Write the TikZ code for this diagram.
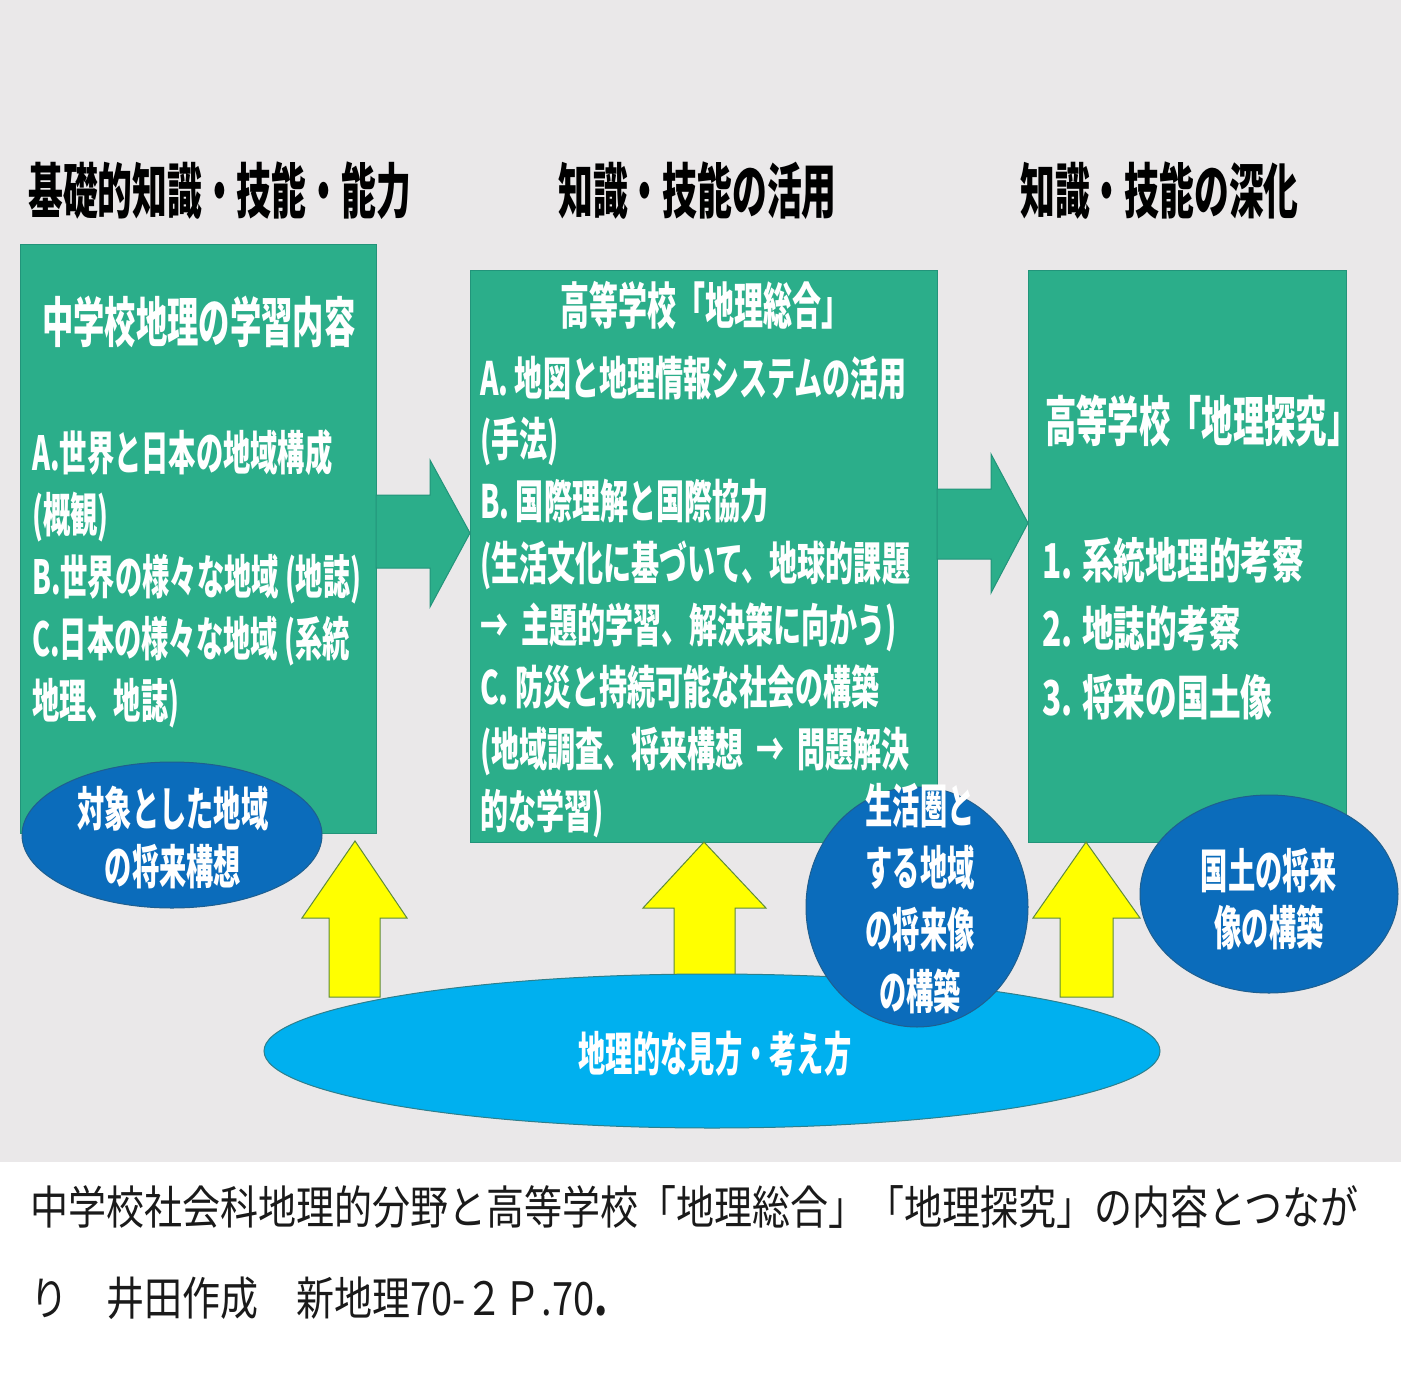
\documentclass[tikz,border=0pt]{standalone}
\usepackage{fontspec}
\usetikzlibrary{shapes.geometric}
\newfontfamily\jpc[FakeStretch=0.58]{Noto Sans CJK JP}
\newfontfamily\jpm[FakeStretch=0.61]{Noto Sans CJK JP}
\newfontfamily\jpw[FakeStretch=0.66]{Noto Sans CJK JP}
\newfontfamily\jpcap[FakeStretch=0.826]{Noto Sans CJK JP}
\definecolor{bg}{HTML}{EAE8E9}
\definecolor{grn}{HTML}{2BAE8A}
\definecolor{grnd}{HTML}{22947A}
\definecolor{dblue}{HTML}{0B6CBB}
\definecolor{dbluel}{HTML}{1F5F8F}
\definecolor{lblue}{HTML}{00B0EF}
\definecolor{lbluel}{HTML}{2E7F8C}
\definecolor{yel}{HTML}{FFFF00}
\definecolor{yell}{HTML}{5E8B3A}
\definecolor{cap}{HTML}{1A1A1A}
\tikzset{
  box/.style={draw=grnd, line width=1pt, fill=grn, rectangle, inner sep=0pt, anchor=north west},
  garrow/.style={draw=grnd, line width=1pt, fill=grn},
  yarrow/.style={draw=yell, line width=1pt, fill=yel},
  dell/.style={draw=dbluel, line width=1pt, fill=dblue, ellipse, inner sep=0pt},
  lell/.style={draw=lbluel, line width=1pt, fill=lblue, ellipse, inner sep=0pt},
  hd/.style={inner sep=0pt, anchor=base west, text=black, font=\jpc\bfseries\fontsize{60}{66}\selectfont},
  ttl/.style={inner sep=0pt, text=white, font=\jpc\bfseries\fontsize{54}{60}\selectfont},
  body/.style={inner sep=0pt, anchor=base west, text=white, font=\jpc\bfseries\fontsize{47}{62}\selectfont},
  mbody/.style={inner sep=0pt, anchor=base west, text=white, font=\jpm\bfseries\fontsize{46}{62}\selectfont},
  wbody/.style={inner sep=0pt, anchor=base west, text=white, font=\jpw\bfseries\fontsize{48}{62}\selectfont},
  etxt/.style={inner sep=0pt, anchor=base, text=white, font=\jpc\bfseries\fontsize{47}{62}\selectfont},
  captxt/.style={inner sep=0pt, anchor=base west, text=cap, font=\jpcap\fontsize{46}{60}\selectfont},
}
\begin{document}
\begin{tikzpicture}[x=1pt,y=-1pt]
\useasboundingbox (0,0) rectangle (1401,1387);
\fill[white] (0,0) rectangle (1401,1387);
\fill[bg] (0,0) rectangle (1401,1162);
% headings
\node[hd] (h1) at (28,213) {基礎的知識・技能・能力};
\node[hd] (h2) at (558,213) {知識・技能の活用};
\node[hd] (h3) at (1020,213) {知識・技能の深化};
% boxes
\node[box, minimum width=356pt, minimum height=589pt] (b1) at (20,244) {};
\node[box, minimum width=467pt, minimum height=572pt] (b2) at (470,270) {};
\node[box, minimum width=318pt, minimum height=572pt] (b3) at (1028,270) {};
% box 1 text
\node[ttl, anchor=base west] (t1) at (42,342) {中学校地理の学習内容};
\foreach \t [count=\i] in {{A.世界と日本の地域構成},{(概観)},{B.世界の様々な地域 (地誌)},{C.日本の様々な地域 (系統},{地理、地誌)}}
  \node[body] (a\i) at (32,{470+62*(\i-1)}) {\t};
% box 2 text
\node[ttl, anchor=base, font=\jpc\bfseries\fontsize{50}{60}\selectfont] (t2) at (705,324) {高等学校「地理総合」};
\foreach \t [count=\i] in {{A. 地図と地理情報システムの活用},{(手法)},{B. 国際理解と国際協力},{(生活文化に基づいて、地球的課題},{→\ \ 主題的学習、解決策に向かう)},{C. 防災と持続可能な社会の構築},{(地域調査、将来構想\ \ →\ \ 問題解決},{的な学習)}}
  \node[mbody] (m\i) at (480,{395+61.9*(\i-1)}) {\t};
% box 3 text
\node[ttl, anchor=base west] (t3) at (1045,441) {高等学校「地理探究」};
\foreach \t [count=\i] in {{1. 系統地理的考察},{2. 地誌的考察},{3. 将来の国土像}}
  \node[wbody] (r\i) at (1042,{578+68.5*(\i-1)}) {\t};
% green block arrows
\draw[garrow] (376,495) -- (430,495) -- (430,460) -- (470,533) -- (430,607) -- (430,568) -- (376,568) -- cycle;
\draw[garrow] (937,489) -- (991,489) -- (991,454) -- (1028,523) -- (991,593) -- (991,559) -- (937,559) -- cycle;
% yellow up arrows
\draw[yarrow] (329,997) -- (329,918) -- (302,918) -- (355,841) -- (407,918) -- (380,918) -- (380,997) -- cycle;
\draw[yarrow] (674,990) -- (674,908) -- (643,908) -- (704,842) -- (766,908) -- (735,908) -- (735,990) -- cycle;
\draw[yarrow] (1060,997) -- (1060,918) -- (1033,918) -- (1086,842) -- (1140,918) -- (1113,918) -- (1113,997) -- cycle;
% big ellipse
\node[lell, minimum width=896pt, minimum height=154pt] (e0) at (712,1051) {};
\node[etxt] (e0t) at (715,1071) {地理的な見方・考え方};
% blue ellipses
\node[dell, minimum width=300pt, minimum height=146pt] (e1) at (172,835) {};
\node[etxt] (e1a) at (173,826) {対象とした地域};
\node[etxt] (e1b) at (173,884) {の将来構想};
\node[dell, minimum width=222pt, minimum height=240pt] (e2) at (917,907) {};
\foreach \t [count=\i] in {生活圏と,する地域,の将来像,の構築}
  \node[etxt] (c\i) at (920,{823+62*(\i-1)}) {\t};
\node[dell, minimum width=258pt, minimum height=198pt] (e3) at (1269,894) {};
\node[etxt] (e3a) at (1269,888) {国土の将来};
\node[etxt] (e3b) at (1269,945) {像の構築};
% caption
\node[captxt] (cap1) at (30,1224) {中学校社会科地理的分野と高等学校「地理総合」「地理探究」の内容とつなが};
\node[captxt] (cap2) at (30,1315) {り　井田作成　新地理70-２Ｐ.70{\bfseries .}};
\end{tikzpicture}
\end{document}
